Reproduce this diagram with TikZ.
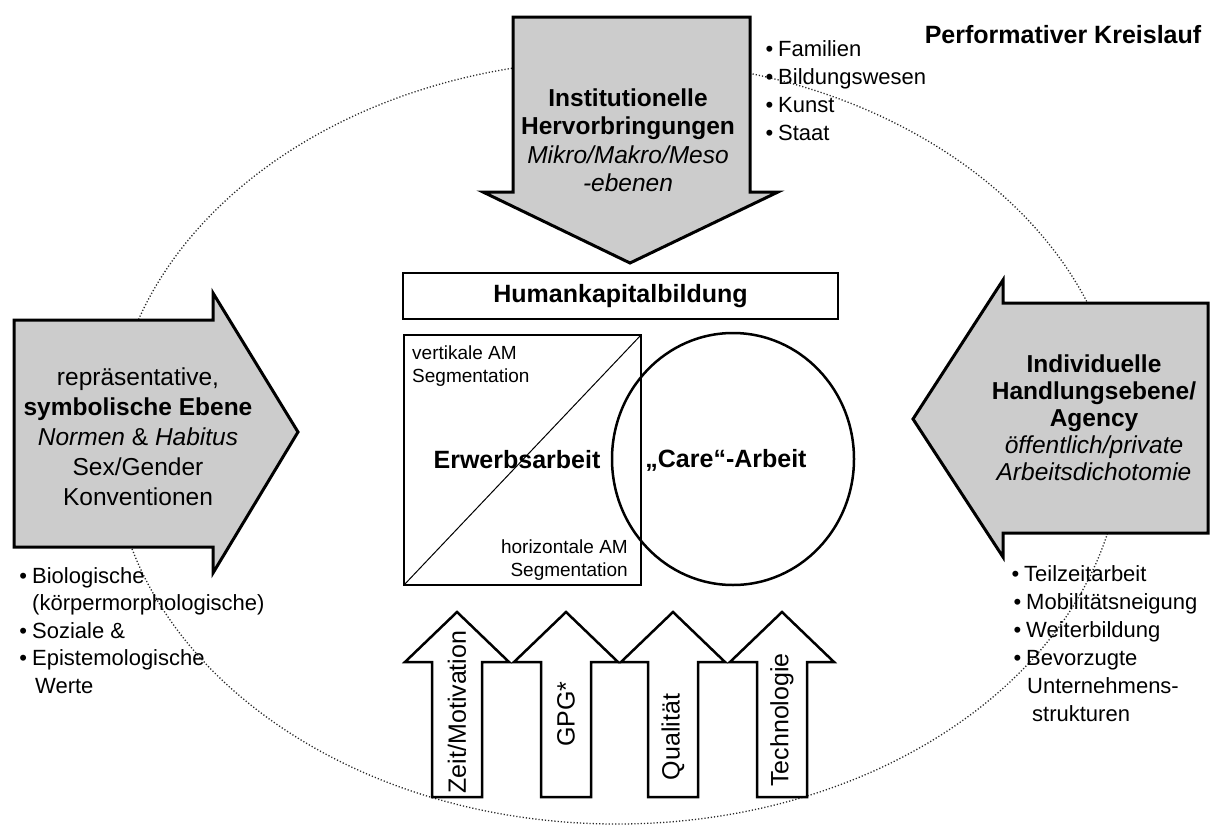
\documentclass[tikz,border=0pt]{standalone}
\usepackage{fontspec}
\setmainfont{Liberation Sans}

\definecolor{arrowgray}{RGB}{204,204,204}
\definecolor{loopgray}{RGB}{40,40,40}

\tikzset{
  bigarrow/.style={draw=black, line width=3pt, fill=arrowgray, line join=miter},
  uparrow/.style={draw=black, line width=2.5pt, fill=white, line join=miter},
  frame/.style={draw=black, line width=2.5pt},
  headtxt/.style={align=center, inner sep=0pt},
  listtxt/.style={font=\fontsize{22}{27}\selectfont, anchor=base west, inner sep=0pt},
  smalltxt/.style={font=\fontsize{19}{23}\selectfont, inner sep=0pt},
  bigbold/.style={font=\fontsize{25}{28}\selectfont\bfseries, inner sep=0pt},
  uptxt/.style={font=\fontsize{25}{28}\selectfont, rotate=90, inner sep=0pt},
}
\newcommand{\bul}{\llap{\textbullet\hspace{5pt}}}

\begin{document}
\begin{tikzpicture}[x=1pt,y=-1pt]
\useasboundingbox (0,0) rectangle (1211,827);

% dotted performative loop
\draw[loopgray, line width=1.3pt, dash pattern=on 1.2pt off 2pt] (617,442) ellipse [x radius=505, y radius=382];

% title
\node[font=\fontsize{25}{28}\selectfont\bfseries, inner sep=0pt] (title) at (1063,35) {Performativer Kreislauf};

% top arrow: institutional level
\draw[bigarrow] (513,17) -- (750,17) -- (750,192) -- (778,192) -- (630,263)
  -- (483,192) -- (513,192) -- cycle;
\node[headtxt, font=\fontsize{24.5}{28.5}\selectfont] (inst) at (628,140)
  {\textbf{Institutionelle}\\ \textbf{Hervorbringungen}\\ \textit{Mikro/Makro/Meso}\\ \textit{-ebenen}};

% left arrow: symbolic level
\draw[bigarrow] (14,320) -- (213,320) -- (213,293) -- (298,432) -- (213,573)
  -- (213,547) -- (14,547) -- cycle;
\node[headtxt, font=\fontsize{24.5}{30}\selectfont] (symb) at (138,437)
  {repräsentative,\\ \textbf{symbolische Ebene}\\ \textit{Normen} \& \textit{Habitus}\\ Sex/Gender\\ Konventionen};

% right arrow: individual level
\draw[bigarrow] (1208,303) -- (1003,303) -- (1003,280) -- (913,419) -- (1003,557)
  -- (1003,533) -- (1208,533) -- cycle;
\node[headtxt, font=\fontsize{24.5}{27}\selectfont] (indiv) at (1094,418)
  {\textbf{Individuelle}\\ \textbf{Handlungsebene/}\\ \textbf{Agency}\\ \textit{öffentlich/private}\\ \textit{Arbeitsdichotomie}};

% list at the top
\node[listtxt] (t1) at (778,56)  {\bul Familien};
\node[listtxt] (t2) at (778,84)  {\bul Bildungswesen};
\node[listtxt] (t3) at (778,112) {\bul Kunst};
\node[listtxt] (t4) at (778,140) {\bul Staat};

% list on the left
\node[listtxt] (l1) at (32,583) {\bul Biologische};
\node[listtxt] (l2) at (32,610) {(körpermorphologische)};
\node[listtxt] (l3) at (32,638) {\bul Soziale \&};
\node[listtxt] (l4) at (32,665) {\bul Epistemologische};
\node[listtxt] (l5) at (35,693) {Werte};

% list on the right
\node[listtxt] (r1) at (1024,581) {\bul Teilzeitarbeit};
\node[listtxt] (r2) at (1026,609) {\bul Mobilitätsneigung};
\node[listtxt] (r3) at (1026,637) {\bul Weiterbildung};
\node[listtxt] (r4) at (1026,665) {\bul Bevorzugte};
\node[listtxt] (r5) at (1027,693) {Unternehmens-};
\node[listtxt] (r6) at (1032,721) {strukturen};

% human capital box
\node[frame, bigbold, minimum width=435pt, minimum height=46pt] (hk) at (620.5,296) {Humankapitalbildung};

% paid work square with segmentation diagonal
\coordinate (sqa) at (404,585);
\coordinate (sqb) at (641,335);
\draw[frame] (sqa) rectangle (sqb);
\draw[line width=1pt] (sqa) -- (sqb);
\node[smalltxt, align=left, anchor=north west] (vert) at (412,346) {vertikale AM\\Segmentation};
\node[smalltxt, align=right, anchor=south east] (horiz) at (628,581) {horizontale AM\\Segmentation};
\node[bigbold] (erwerb) at (517,460) {Erwerbsarbeit};

% care work circle
\draw[frame] (733,459) ellipse [x radius=121, y radius=126];
\node[bigbold] (care) at (726,460) {„Care“-Arbeit};

% four upward arrows
\foreach \cx/\cy/\lab [count=\i] in {457/712/Zeit\slash Motivation, 566/714/GPG*, 673/737/Qualität, 782/720/Technologie}{
  \draw[uparrow] ({\cx-25},797) -- ({\cx-25},662) -- ({\cx-52},662) -- (\cx,612)
    -- ({\cx+52},662) -- ({\cx+25},662) -- ({\cx+25},797) -- cycle;
  \node[uptxt] (up\i) at (\cx,\cy) {\lab};
}
\end{tikzpicture}
\end{document}
